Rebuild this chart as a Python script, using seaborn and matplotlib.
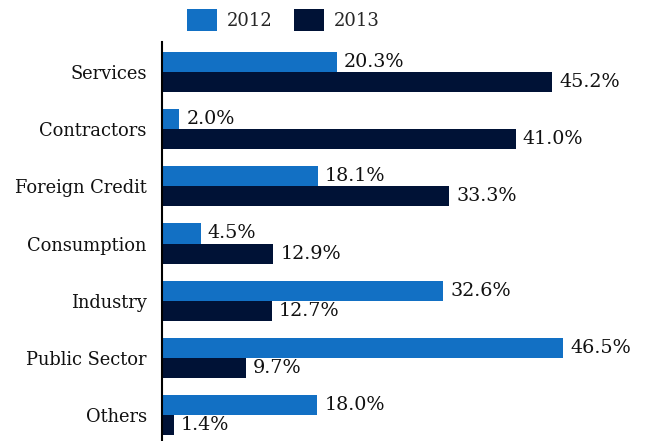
import matplotlib
matplotlib.use("Agg")
import matplotlib.pyplot as plt
import seaborn as sns
import pandas as pd

categories = ["Services", "Contractors", "Foreign Credit", "Consumption",
              "Industry", "Public Sector", "Others"]
values_2012 = [20.3, 2.0, 18.1, 4.5, 32.6, 46.5, 18.0]
values_2013 = [45.2, 41.0, 33.3, 12.9, 12.7, 9.7, 1.4]
years = ["2012", "2013"]
colors = ["#1270C4", "#001236"]

df = pd.DataFrame({
    "category": categories * 2,
    "value": values_2012 + values_2013,
    "year": [years[0]] * len(categories) + [years[1]] * len(categories),
})

sns.set_theme(style="white")
plt.rcParams["font.family"] = ["DejaVu Serif"]

fig = plt.figure(figsize=(6.48, 4.41), dpi=100)
ax = fig.add_axes([162 / 648, 0.0, (640 - 162) / 648, (441 - 42) / 441])

sns.barplot(data=df, y="category", x="value", hue="year", order=categories,
            hue_order=years, palette=colors, orient="h", width=0.7,
            saturation=1, linewidth=0, ax=ax, legend=True)

for cont in ax.containers:
    ax.bar_label(cont, fmt="%.1f%%", padding=5, fontsize=13.8, color="#111111")

ax.set_xlim(0, (640 - 162) / 8.63)
ax.set_ylim(6.45, -0.52)
ax.set_xlabel("")
ax.set_ylabel("")
ax.set_xticks([])
ax.tick_params(axis="y", length=0, pad=11, labelsize=12.9, labelcolor="#111111")
for s in ["top", "right", "bottom"]:
    ax.spines[s].set_visible(False)
ax.spines["left"].set_color("#000000")
ax.spines["left"].set_linewidth(1.5)

handles, labels = ax.get_legend_handles_labels()
ax.legend_.remove()
fig.legend(handles, labels, loc="center", bbox_to_anchor=(283.5 / 648, 1 - 20 / 441),
           ncol=2, frameon=False, fontsize=13, handlelength=1.67, handleheight=1.45,
           handletextpad=0.55, columnspacing=1.15, borderaxespad=0)

fig.savefig("out.png", dpi=100)
